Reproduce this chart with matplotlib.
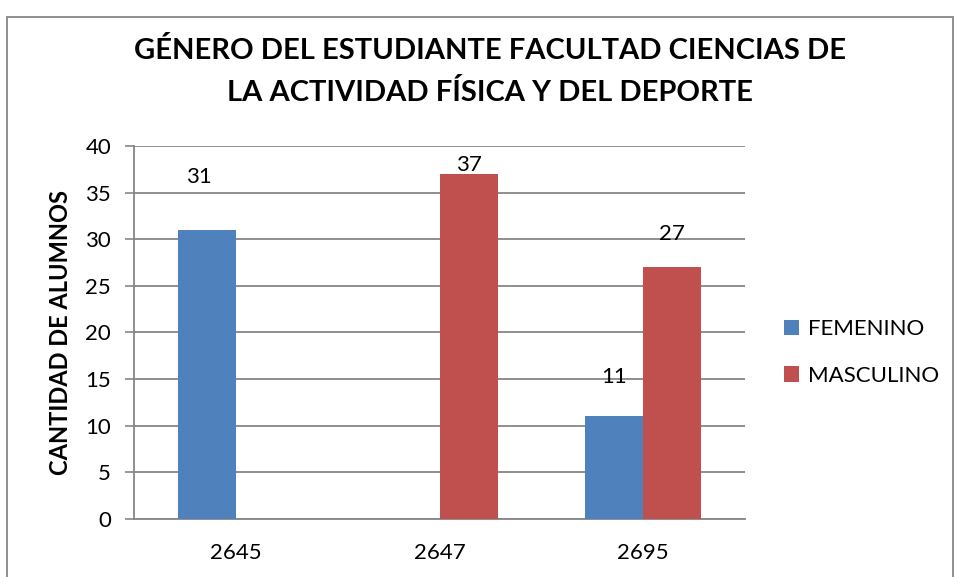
import numpy as np
import matplotlib
matplotlib.use('Agg')
from matplotlib import pyplot as plt
from matplotlib.patches import Rectangle

# Students per faculty code, split by gender
categories = ['2645', '2647', '2695']
femenino = [31, 0, 11]
masculino = [0, 37, 27]

plt.rcParams['font.family'] = ['Lato', 'DejaVu Sans']

BLUE = '#4F81BD'
RED = '#C0504D'
GRID = '#868686'

fig = plt.figure(figsize=(9.57, 5.77), dpi=100)
ax = fig.add_axes([0.140, 0.1005, 0.6385, 0.6465])

x = np.arange(len(categories))
w = 0.285
bars_f = ax.bar(x - w / 2, femenino, w, color=BLUE, label='FEMENINO', zorder=3)
bars_m = ax.bar(x + w / 2, masculino, w, color=RED, label='MASCULINO', zorder=3)

# value labels sit at hand-placed heights above the bars (pixels)
label_lift = {('f', 0): 53, ('m', 1): 9, ('m', 2): 33, ('f', 2): 39}
for key, bars, vals in (('f', bars_f, femenino), ('m', bars_m, masculino)):
    for i, (b, v) in enumerate(zip(bars, vals)):
        if v == 0:
            continue
        dx = -8 if (key, i) == ('f', 0) else 0
        ax.annotate(str(v), (b.get_x() + b.get_width() / 2, v),
                    xytext=(dx * 0.72, label_lift[(key, i)] * 0.72),
                    textcoords='offset points', ha='center', va='center',
                    fontsize=16, color='black', zorder=4)

ax.set_xlim(-0.5, len(categories) - 0.5)
ax.set_ylim(0, 40)
ax.set_yticks(range(0, 41, 5))
ax.set_xticks(x)
ax.set_xticklabels(categories)
ax.tick_params(axis='y', length=6.5, width=1.2, color=GRID, labelsize=16, pad=10)
ax.tick_params(axis='x', length=0, labelsize=16, pad=17)
ax.yaxis.grid(True, color=GRID, linewidth=1.3, zorder=0)
ax.set_axisbelow(True)
for side in ('top', 'right'):
    ax.spines[side].set_visible(False)
for side in ('left', 'bottom'):
    ax.spines[side].set_color(GRID)
    ax.spines[side].set_linewidth(1.3)

ax.set_ylabel('CANTIDAD DE ALUMNOS', fontsize=17, fontweight='bold')
ax.yaxis.set_label_coords(-0.1015, 0.5)

fig.text(0.5115, 0.913, 'GÉNERO DEL ESTUDIANTE FACULTAD CIENCIAS DE',
         ha='center', va='center', fontsize=21, fontweight='bold')
fig.text(0.5115, 0.840, 'LA ACTIVIDAD FÍSICA Y DEL DEPORTE',
         ha='center', va='center', fontsize=21, fontweight='bold')

fig.legend(loc='upper left', bbox_to_anchor=(0.819, 0.447), frameon=False,
           fontsize=16, handlelength=0.7, handleheight=0.7, handletextpad=0.4,
           labelspacing=1.2, borderpad=0, borderaxespad=0)

# chart frame
fig.patches.append(Rectangle((7 / 957, -0.05), 946 / 957, 1 - 17 / 577 + 0.05,
                             transform=fig.transFigure, fill=False,
                             edgecolor=GRID, linewidth=1.3))

fig.savefig('out.png', dpi=100)
